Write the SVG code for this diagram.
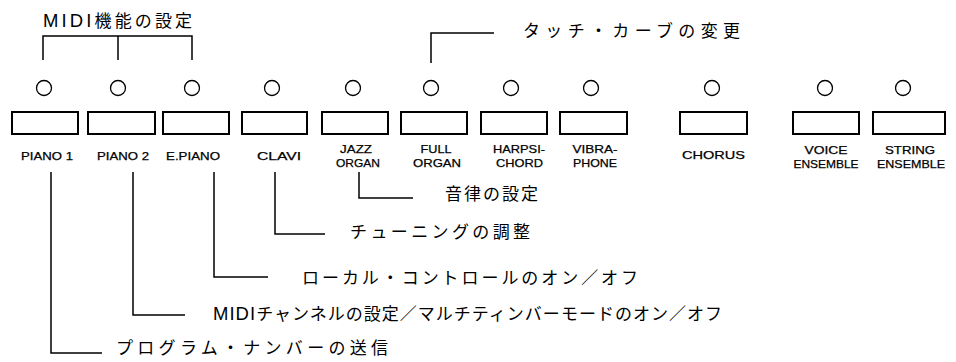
<svg xmlns="http://www.w3.org/2000/svg" width="956" height="362" viewBox="0 0 956 362">
<style>
.bg{fill:#fff}
.btn{fill:#fff;stroke:#000;stroke-width:2}
.led{fill:#fff;stroke:#000;stroke-width:1.3}
.lbl{font-family:"Liberation Sans",Arial,sans-serif;font-size:11.5px;fill:#000;stroke:#000;stroke-width:0.25;text-anchor:middle}
.jp{font-family:"Noto Sans CJK JP","Noto Sans",sans-serif;font-size:17px;fill:#000}
.lat{font-family:"Liberation Sans",Arial,sans-serif;font-size:18.5px}
.con{fill:none;stroke:#000;stroke-width:1.5}
</style>
<rect class="bg" x="0" y="0" width="956" height="362"/>
<g id="connectors">
<path class="con" d="M43,60 V36 H192 V60 M118,36 V60"/>
<path class="con" d="M431,63 V33 H494"/>
<path class="con" d="M51,172 V353 H102"/>
<path class="con" d="M133,172 V315 H185"/>
<path class="con" d="M214,172 V277 H268"/>
<path class="con" d="M275,172 V234 H325"/>
<path class="con" d="M359,172 V198 H413"/>
</g>
<g id="piano1"><circle class="led" cx="44" cy="88" r="7.5"/><rect class="btn" x="12" y="112" width="66" height="22"/><text class="lbl" x="47" y="160" textLength="52" lengthAdjust="spacingAndGlyphs">PIANO 1</text></g>
<g id="piano2"><circle class="led" cx="118" cy="88" r="7.5"/><rect class="btn" x="88" y="112" width="67" height="22"/><text class="lbl" x="123" y="160" textLength="52" lengthAdjust="spacingAndGlyphs">PIANO 2</text></g>
<g id="epiano"><circle class="led" cx="192" cy="88" r="7.5"/><rect class="btn" x="163" y="112" width="66" height="22"/><text class="lbl" x="193" y="160" textLength="54" lengthAdjust="spacingAndGlyphs">E.PIANO</text></g>
<g id="clavi"><circle class="led" cx="272" cy="88" r="7.5"/><rect class="btn" x="242" y="112" width="65" height="22"/><text class="lbl" x="279" y="160" textLength="44" lengthAdjust="spacingAndGlyphs">CLAVI</text></g>
<g id="jazzorgan"><circle class="led" cx="353" cy="88" r="7.5"/><rect class="btn" x="322" y="112" width="66" height="22"/><text class="lbl" x="356" y="153" textLength="32" lengthAdjust="spacingAndGlyphs">JAZZ</text><text class="lbl" x="358" y="166.5" textLength="44" lengthAdjust="spacingAndGlyphs">ORGAN</text></g>
<g id="fullorgan"><circle class="led" cx="431" cy="88" r="7.5"/><rect class="btn" x="401" y="112" width="66" height="22"/><text class="lbl" x="436" y="153" textLength="31" lengthAdjust="spacingAndGlyphs">FULL</text><text class="lbl" x="437" y="166.5" textLength="48" lengthAdjust="spacingAndGlyphs">ORGAN</text></g>
<g id="harpsichord"><circle class="led" cx="511" cy="88" r="7.5"/><rect class="btn" x="481" y="112" width="66" height="22"/><text class="lbl" x="519" y="153" textLength="52" lengthAdjust="spacingAndGlyphs">HARPSI-</text><text class="lbl" x="519.5" y="166.5" textLength="47" lengthAdjust="spacingAndGlyphs">CHORD</text></g>
<g id="vibraphone"><circle class="led" cx="591" cy="88" r="7.5"/><rect class="btn" x="560" y="112" width="67" height="22"/><text class="lbl" x="595" y="153" textLength="45" lengthAdjust="spacingAndGlyphs">VIBRA-</text><text class="lbl" x="595" y="166.5" textLength="44" lengthAdjust="spacingAndGlyphs">PHONE</text></g>
<g id="chorus"><circle class="led" cx="712" cy="88" r="7.5"/><rect class="btn" x="680" y="112" width="67" height="22"/><text class="lbl" x="713.5" y="159" textLength="63" lengthAdjust="spacingAndGlyphs">CHORUS</text></g>
<g id="voiceensemble"><circle class="led" cx="825" cy="88" r="7.5"/><rect class="btn" x="793" y="112" width="66" height="22"/><text class="lbl" x="826" y="154" textLength="43" lengthAdjust="spacingAndGlyphs">VOICE</text><text class="lbl" x="826" y="167.5" textLength="65" lengthAdjust="spacingAndGlyphs">ENSEMBLE</text></g>
<g id="stringensemble"><circle class="led" cx="903" cy="88" r="7.5"/><rect class="btn" x="873" y="112" width="72" height="22"/><text class="lbl" x="910" y="154" textLength="50" lengthAdjust="spacingAndGlyphs">STRING</text><text class="lbl" x="911" y="167.5" textLength="68" lengthAdjust="spacingAndGlyphs">ENSEMBLE</text></g>
<g id="labels">
<text class="jp" x="43" y="27" textLength="149" lengthAdjust="spacing"><tspan class="lat">MIDI</tspan>機能の設定</text>
<text class="jp" x="523" y="37" textLength="217" lengthAdjust="spacing">タッチ・カーブの変更</text>
<text class="jp" x="445" y="200" textLength="93" lengthAdjust="spacing">音律の設定</text>
<text class="jp" x="350" y="238" textLength="180" lengthAdjust="spacing">チューニングの調整</text>
<text class="jp" x="302" y="284" textLength="336" lengthAdjust="spacing">ローカル・コントロールのオン／オフ</text>
<text class="jp" x="213" y="320" textLength="509" lengthAdjust="spacing"><tspan class="lat">MIDI</tspan>チャンネルの設定／マルチティンバーモードのオン／オフ</text>
<text class="jp" x="116" y="354" textLength="272" lengthAdjust="spacing">プログラム・ナンバーの送信</text>
</g>
</svg>
